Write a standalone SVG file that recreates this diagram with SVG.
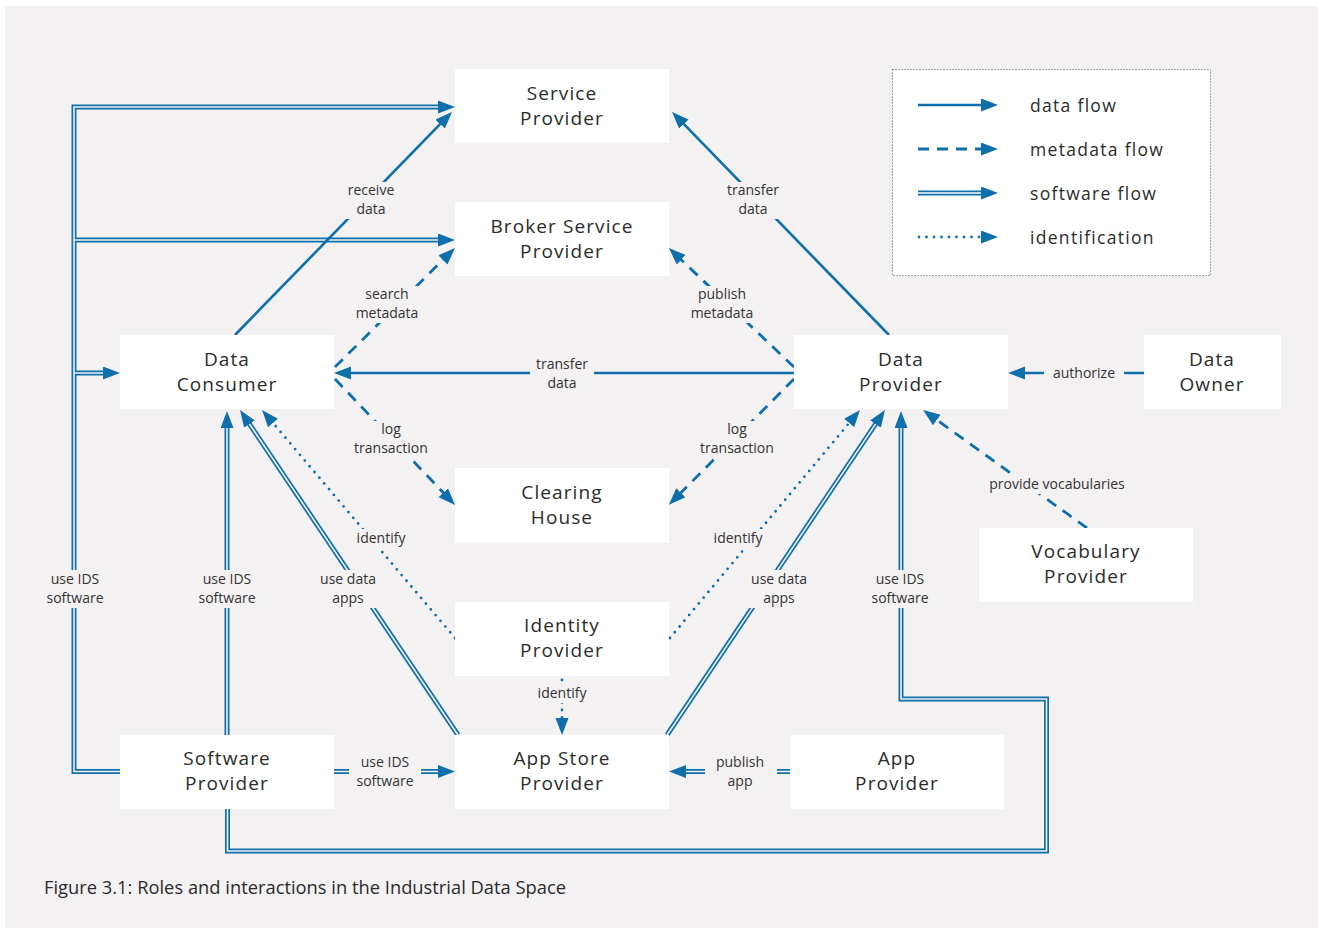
<svg xmlns="http://www.w3.org/2000/svg" width="1318" height="928" viewBox="0 0 1318 928">
  <style>
    .node rect { fill: #ffffff; }
    .node text { font-family: "Open Sans", "Noto Sans", sans-serif; font-size: 19px; letter-spacing: 1.1px; fill: #2b2b2b; text-anchor: middle; }
    .lbg { fill: #f3f1f2; }
    .lbl { font-family: "Open Sans", "Noto Sans", sans-serif; font-size: 14px; fill: #333; text-anchor: middle; }
    .data { fill: none; stroke: #0e6fab; stroke-width: 2.6; }
    .meta { fill: none; stroke: #0e6fab; stroke-width: 2.8; stroke-dasharray: 11 8; }
    .ident { fill: none; stroke: #0e6fab; stroke-width: 2.8; stroke-linecap: round; stroke-dasharray: 0 7.5; }
    .sw-out { fill: none; stroke: #0e6fab; stroke-width: 5; }
    .sw-in { fill: none; stroke: #f3f1f2; stroke-width: 1.6; }
    .legend-text { font-family: "Open Sans", "Noto Sans", sans-serif; font-size: 17.5px; letter-spacing: 1.3px; fill: #2b2b2b; }
    .caption { font-family: "Open Sans", "Noto Sans", sans-serif; font-size: 18px; fill: #2b2b2b; }
  </style>
  <defs>
    <marker id="arrow" markerUnits="userSpaceOnUse" markerWidth="18" markerHeight="14" refX="9" refY="6.5" orient="auto">
      <path d="M0,0 L17,6.5 L0,13 z" fill="#0e6fab"/>
    </marker>
  </defs>

  <!-- page -->
  <rect x="0" y="0" width="1318" height="928" fill="#ffffff"/>
  <rect x="5" y="6" width="1313" height="922" fill="#f3f1f2"/>

  <!-- connectors -->
  <g id="connectors">
    <!-- software flow: outer strokes -->
    <g class="sw-out">
      <path id="sw1" d="M120,771.5 H74 V107 H447"/>
      <path id="sw1b" d="M74,240 H447"/>
      <path id="sw1c" d="M74,373 H112"/>
      <path id="sw2" d="M227,735 V419"/>
      <path id="sw3" d="M458,735 L244.5,416.6"/>
      <path id="sw4" d="M667,735 L880.5,416.6"/>
      <path id="sw5" d="M227.5,809 V851 H1046.5 V699 H901 V419"/>
      <path id="sw6" d="M334,771.5 H447"/>
      <path id="sw7" d="M790,771.5 H677"/>
    </g>
    <!-- software flow: inner gaps, arrowheads on top -->
    <g class="sw-in" marker-end="url(#arrow)">
      <use href="#sw1"/>
      <use href="#sw1b"/>
      <use href="#sw1c"/>
      <use href="#sw2"/>
      <use href="#sw3"/>
      <use href="#sw4"/>
      <use href="#sw5"/>
      <use href="#sw6"/>
      <use href="#sw7"/>
    </g>

    <!-- data flow -->
    <g class="data" marker-end="url(#arrow)">
      <path d="M235,335 L446.4,117.7"/>
      <path d="M889,335 L677.6,117.7"/>
      <path d="M794,373 H342"/>
      <path d="M1144,373 H1016"/>
    </g>

    <!-- metadata flow -->
    <g class="meta" marker-end="url(#arrow)">
      <path d="M335,367 L449.3,253.6"/>
      <path d="M794,367 L674.7,253.6"/>
      <path d="M335,379 L449.5,499.2"/>
      <path d="M794,379 L674.5,499.2"/>
      <path d="M1087,528 L929.5,414.7"/>
    </g>

    <!-- identification -->
    <g class="ident" marker-end="url(#arrow)">
      <path d="M455,638 L267.2,416.1"/>
      <path d="M670,638 L854.9,416.1"/>
      <path d="M562,680 L562,727"/>
    </g>

    <!-- connector labels, each on a small background patch that breaks the line -->
    <g class="labels">
      <rect class="lbg" x="343" y="182" width="56" height="37"/>
      <text class="lbl" x="371" y="195">receive<tspan x="371" dy="19">data</tspan></text>
      <rect class="lbg" x="722" y="182" width="62" height="37"/>
      <text class="lbl" x="753" y="195">transfer<tspan x="753" dy="19">data</tspan></text>
      <rect class="lbg" x="353" y="286" width="68" height="37"/>
      <text class="lbl" x="387" y="299">search<tspan x="387" dy="19">metadata</tspan></text>
      <rect class="lbg" x="688" y="286" width="68" height="37"/>
      <text class="lbl" x="722" y="299">publish<tspan x="722" dy="19">metadata</tspan></text>
      <rect class="lbg" x="530" y="356" width="64" height="37"/>
      <text class="lbl" x="562" y="369">transfer<tspan x="562" dy="19">data</tspan></text>
      <rect class="lbg" x="350" y="421" width="82" height="37"/>
      <text class="lbl" x="391" y="434">log<tspan x="391" dy="19">transaction</tspan></text>
      <rect class="lbg" x="696" y="421" width="82" height="37"/>
      <text class="lbl" x="737" y="434">log<tspan x="737" dy="19">transaction</tspan></text>
      <rect class="lbg" x="352" y="529" width="58" height="19"/>
      <text class="lbl" x="381" y="543">identify</text>
      <rect class="lbg" x="709" y="529" width="58" height="19"/>
      <text class="lbl" x="738" y="543">identify</text>
      <rect class="lbg" x="42" y="570" width="66" height="38"/>
      <text class="lbl" x="75" y="584">use IDS<tspan x="75" dy="19">software</tspan></text>
      <rect class="lbg" x="194" y="570" width="66" height="38"/>
      <text class="lbl" x="227" y="584">use IDS<tspan x="227" dy="19">software</tspan></text>
      <rect class="lbg" x="314" y="570" width="68" height="38"/>
      <text class="lbl" x="348" y="584">use data<tspan x="348" dy="19">apps</tspan></text>
      <rect class="lbg" x="745" y="570" width="68" height="38"/>
      <text class="lbl" x="779" y="584">use data<tspan x="779" dy="19">apps</tspan></text>
      <rect class="lbg" x="867" y="570" width="66" height="38"/>
      <text class="lbl" x="900" y="584">use IDS<tspan x="900" dy="19">software</tspan></text>
      <rect class="lbg" x="533" y="684" width="58" height="19"/>
      <text class="lbl" x="562" y="698">identify</text>
      <rect class="lbg" x="349" y="752" width="72" height="38"/>
      <text class="lbl" x="385" y="767">use IDS<tspan x="385" dy="19">software</tspan></text>
      <rect class="lbg" x="705" y="752" width="72" height="38"/>
      <text class="lbl" x="740" y="767">publish<tspan x="740" dy="19">app</tspan></text>
      <rect class="lbg" x="1044" y="363" width="80" height="20"/>
      <text class="lbl" x="1084" y="378">authorize</text>
      <rect class="lbg" x="982" y="474" width="150" height="20"/>
      <text class="lbl" x="1057" y="489">provide vocabularies</text>
    </g>
  </g>

  <!-- nodes -->
  <g id="service-provider" class="node">
    <rect x="455" y="69" width="214" height="74"/>
    <text x="562" y="100">Service<tspan x="562" dy="25">Provider</tspan></text>
  </g>
  <g id="broker-service-provider" class="node">
    <rect x="455" y="202" width="214" height="74"/>
    <text x="562" y="233">Broker Service<tspan x="562" dy="25">Provider</tspan></text>
  </g>
  <g id="data-consumer" class="node">
    <rect x="120" y="335" width="214" height="74"/>
    <text x="227" y="366">Data<tspan x="227" dy="25">Consumer</tspan></text>
  </g>
  <g id="data-provider" class="node">
    <rect x="794" y="335" width="214" height="74"/>
    <text x="901" y="366">Data<tspan x="901" dy="25">Provider</tspan></text>
  </g>
  <g id="data-owner" class="node">
    <rect x="1144" y="335" width="137" height="74"/>
    <text x="1212" y="366">Data<tspan x="1212" dy="25">Owner</tspan></text>
  </g>
  <g id="clearing-house" class="node">
    <rect x="455" y="468" width="214" height="75"/>
    <text x="562" y="499">Clearing<tspan x="562" dy="25">House</tspan></text>
  </g>
  <g id="vocabulary-provider" class="node">
    <rect x="979" y="528" width="214" height="74"/>
    <text x="1086" y="558">Vocabulary<tspan x="1086" dy="25">Provider</tspan></text>
  </g>
  <g id="identity-provider" class="node">
    <rect x="455" y="602" width="214" height="74"/>
    <text x="562" y="632">Identity<tspan x="562" dy="25">Provider</tspan></text>
  </g>
  <g id="software-provider" class="node">
    <rect x="120" y="735" width="214" height="74"/>
    <text x="227" y="765">Software<tspan x="227" dy="25">Provider</tspan></text>
  </g>
  <g id="app-store-provider" class="node">
    <rect x="455" y="735" width="214" height="74"/>
    <text x="562" y="765">App Store<tspan x="562" dy="25">Provider</tspan></text>
  </g>
  <g id="app-provider" class="node">
    <rect x="790" y="735" width="214" height="74"/>
    <text x="897" y="765">App<tspan x="897" dy="25">Provider</tspan></text>
  </g>

  <!-- legend -->
  <g id="legend">
    <rect x="892.5" y="69.5" width="318" height="206" fill="#ffffff" stroke="#555" stroke-width="1" stroke-dasharray="1 2"/>
    <path class="data" d="M918,105 H990" marker-end="url(#arrow)"/>
    <path class="meta" d="M918,149 H990" marker-end="url(#arrow)"/>
    <path class="sw-out" d="M918,193 H990"/>
    <path class="sw-in" d="M918,193 H990" style="stroke:#ffffff" marker-end="url(#arrow)"/>
    <path class="ident" d="M919,237 H990" marker-end="url(#arrow)"/>
    <text class="legend-text" x="1030" y="112">data flow</text>
    <text class="legend-text" x="1030" y="156">metadata flow</text>
    <text class="legend-text" x="1030" y="200">software flow</text>
    <text class="legend-text" x="1030" y="244">identification</text>
  </g>

  <text class="caption" x="44" y="894" textLength="522" lengthAdjust="spacingAndGlyphs">Figure 3.1: Roles and interactions in the Industrial Data Space</text>
</svg>
